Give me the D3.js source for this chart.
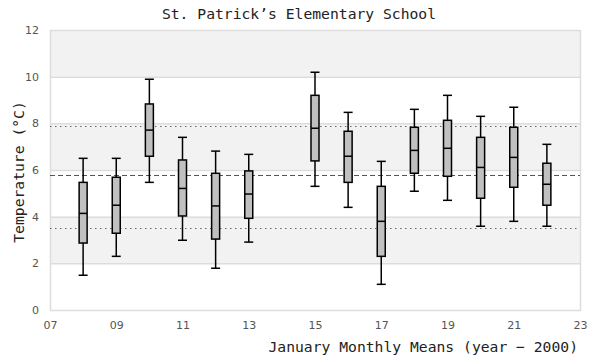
<!DOCTYPE html>
<html>
<head>
<meta charset="utf-8">
<script src="https://cdn.jsdelivr.net/npm/d3@7"></script>
<style>
  html, body { margin: 0; padding: 0; background: #fff; }
  svg { display: block; }
</style>
</head>
<body>
<svg id="chart" width="600" height="360"></svg>
<script>
// ---- Data ----
const years        = [8, 9, 10, 11, 12, 13, 15, 16, 17, 18, 19, 20, 21, 22];
const whiskerLow   = [1.49, 2.30, 5.47, 2.99, 1.79, 2.91, 5.30, 4.40, 1.10, 5.09, 4.70, 3.59, 3.80, 3.59];
const q1           = [2.87, 3.29, 6.59, 4.03, 3.04, 3.93, 6.39, 5.47, 2.30, 5.86, 5.73, 4.79, 5.26, 4.49];
const medians      = [4.14, 4.49, 7.71, 5.21, 4.46, 4.97, 7.79, 6.59, 3.80, 6.84, 6.93, 6.11, 6.54, 5.39];
const q3           = [5.47, 5.69, 8.83, 6.43, 5.86, 5.96, 9.20, 7.66, 5.30, 7.83, 8.13, 7.40, 7.83, 6.29];
const whiskerHigh  = [6.50, 6.50, 9.89, 7.40, 6.81, 6.67, 10.19, 8.47, 6.37, 8.60, 9.20, 8.30, 8.69, 7.10];
const refUpper     = 7.88;
const refMean      = 5.77;
const refLower     = 3.50;
const xTicks       = [7, 9, 11, 13, 15, 17, 19, 21, 23];
const yTicks       = [0, 2, 4, 6, 8, 10, 12];
const bandRanges   = [[10, 12], [6, 8], [2, 4]];
const titleText    = "St. Patrick’s Elementary School";
const xTitle       = "January Monthly Means (year − 2000)";
const yTitle       = "Temperature (°C)";

// ---- Layout ----
const svg = d3.select("#chart");
const L = 50, R = 580, T = 30, B = 310;
const x = d3.scaleLinear().domain([7, 23]).range([L, R]);
const y = d3.scaleLinear().domain([0, 12]).range([B, T]);
const mono = "'DejaVu Sans Mono', monospace";
const sans = "'DejaVu Sans', sans-serif";

// bands
svg.append("g").selectAll("rect").data(bandRanges).join("rect")
  .attr("x", L).attr("width", R - L)
  .attr("y", d => y(d[1])).attr("height", d => y(d[0]) - y(d[1]))
  .attr("fill", "#f2f2f2");

// gridlines
svg.append("g").selectAll("line").data(yTicks).join("line")
  .attr("x1", L).attr("x2", R)
  .attr("y1", d => y(d) + 0.5).attr("y2", d => y(d) + 0.5)
  .attr("stroke", "#dddddd").attr("stroke-width", 1.5);

// frame
svg.append("line").attr("x1", L + 0.5).attr("x2", L + 0.5).attr("y1", T).attr("y2", B + 1)
  .attr("stroke", "#dddddd").attr("stroke-width", 1.5);
svg.append("line").attr("x1", R + 0.5).attr("x2", R + 0.5).attr("y1", T).attr("y2", B + 1)
  .attr("stroke", "#dddddd").attr("stroke-width", 1.5);

// reference lines
const refs = [
  { v: refUpper, dash: "1.5,3.5", c: "#666" },
  { v: refMean, dash: "5,3", c: "#555" },
  { v: refLower, dash: "1.5,3.5", c: "#666" }
];
svg.append("g").selectAll("line").data(refs).join("line")
  .attr("x1", L).attr("x2", R)
  .attr("y1", d => Math.round(y(d.v)) + 0.5).attr("y2", d => Math.round(y(d.v)) + 0.5)
  .attr("stroke", d => d.c).attr("stroke-width", 1.2)
  .attr("stroke-dasharray", d => d.dash);

// axes (labels only)
const xAxis = d3.axisBottom(x).tickValues(xTicks).tickSize(0).tickPadding(0)
  .tickFormat(d => String(d).padStart(2, "0"));
const gx = svg.append("g").attr("transform", `translate(0,${B + 19})`).call(xAxis);
gx.select(".domain").remove();
gx.selectAll("text").attr("font-family", sans).attr("font-size", 11).attr("fill", "#555").attr("dy", "0");

const yAxis = d3.axisLeft(y).tickValues(yTicks).tickSize(0).tickPadding(11);
const gy = svg.append("g").attr("transform", `translate(${L},0)`).call(yAxis);
gy.select(".domain").remove();
gy.selectAll("text").attr("font-family", sans).attr("font-size", 11).attr("fill", "#555");

// boxes
const data = years.map((yr, i) => ({
  yr, lo: whiskerLow[i], q1: q1[i], med: medians[i], q3: q3[i], hi: whiskerHigh[i]
}));
const bw = 8, cw = 9;
const g = svg.append("g").attr("stroke", "#000").attr("stroke-width", 1.5);
const box = g.selectAll("g").data(data).join("g");
box.append("line")
  .attr("x1", d => x(d.yr)).attr("x2", d => x(d.yr))
  .attr("y1", d => y(d.hi)).attr("y2", d => y(d.lo));
box.append("line")
  .attr("x1", d => x(d.yr) - cw / 2).attr("x2", d => x(d.yr) + cw / 2)
  .attr("y1", d => y(d.hi)).attr("y2", d => y(d.hi));
box.append("line")
  .attr("x1", d => x(d.yr) - cw / 2).attr("x2", d => x(d.yr) + cw / 2)
  .attr("y1", d => y(d.lo)).attr("y2", d => y(d.lo));
box.append("rect")
  .attr("x", d => x(d.yr) - bw / 2).attr("width", bw)
  .attr("y", d => y(d.q3)).attr("height", d => y(d.q1) - y(d.q3))
  .attr("fill", "#c0c0c0");
box.append("line")
  .attr("x1", d => x(d.yr) - bw / 2).attr("x2", d => x(d.yr) + bw / 2)
  .attr("y1", d => y(d.med)).attr("y2", d => y(d.med));

// titles
svg.append("text").attr("x", 299).attr("y", 19).attr("text-anchor", "middle")
  .attr("font-family", mono).attr("font-size", 14.7).attr("fill", "#222").text(titleText);
svg.append("text").attr("x", 578).attr("y", 352).attr("text-anchor", "end")
  .attr("font-family", mono).attr("font-size", 14.7).attr("fill", "#222").text(xTitle);
svg.append("text").attr("transform", "translate(24,172) rotate(-90)").attr("text-anchor", "middle")
  .attr("font-family", mono).attr("font-size", 14.7).attr("fill", "#222").text(yTitle);
</script>
</body>
</html>
